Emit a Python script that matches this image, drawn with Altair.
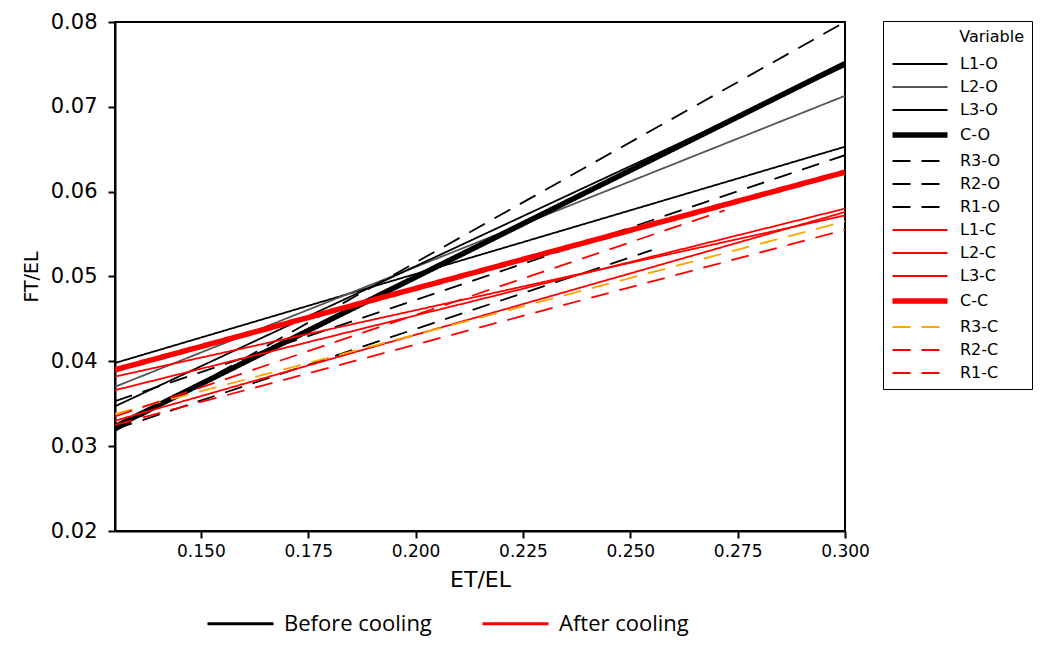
import altair as alt
import pandas as pd

# ---- data (start and end of each fitted line) ----
series = ["L1-O", "L2-O", "L3-O", "C-O", "R3-O", "R2-O", "R1-O",
          "L1-C", "L2-C", "L3-C", "C-C", "R3-C", "R2-C", "R1-C"]
cooling = ["Before cooling"] * 7 + ["After cooling"] * 7
x_start = [0.13] * 14
x_end = [0.30, 0.30, 0.30, 0.30, 0.30, 0.30, 0.255,
         0.30, 0.30, 0.30, 0.30, 0.30, 0.272, 0.30]
y_start = [0.0398, 0.0370, 0.0347, 0.0323, 0.0318, 0.0353, 0.0320,
           0.0382, 0.0366, 0.0330, 0.0390, 0.0338, 0.0335, 0.0325]
y_end = [0.0653, 0.0713, 0.0748, 0.0751, 0.0800, 0.0643, 0.0531,
         0.0572, 0.0580, 0.0576, 0.0623, 0.0565, 0.0578, 0.0555]

line_colors = ["#000000", "#555555", "#000000", "#000000", "#000000", "#000000", "#000000",
               "#ff0000", "#ff0000", "#ff0000", "#ff0000", "#ffa500", "#ff0000", "#ff0000"]
line_widths = [1.8, 1.8, 1.8, 5.5, 1.8, 1.8, 1.8, 1.8, 1.8, 1.8, 5.5, 1.8, 1.8, 1.8]
solid = [1, 0]
dash = [18, 11]
line_dashes = [solid, solid, solid, solid, dash, dash, dash,
               solid, solid, solid, solid, dash, dash, dash]

cool_labels = ["Before cooling", "After cooling"]
cool_colors = ["#000000", "#ff0000"]

x_ticks = [0.150, 0.175, 0.200, 0.225, 0.250, 0.275, 0.300]
y_ticks = [0.02, 0.03, 0.04, 0.05, 0.06, 0.07, 0.08]

rows = []
for s, g, xs, xe, ys, ye in zip(series, cooling, x_start, x_end, y_start, y_end):
    rows.append({"Variable": s, "Cooling": g, "ET": xs, "FT": ys})
    rows.append({"Variable": s, "Cooling": g, "ET": xe, "FT": ye})
df = pd.DataFrame(rows)

FONT = "DejaVu Sans"
BLANK = "\u2800"  # invisible filler that widens the legend box

main_legend = alt.Legend(
    title="Variable", orient="none", legendX=768, legendY=-1,
    symbolType="M-2.75,0L2.75,0", symbolSize=400,
    titleFont=FONT, titleFontSize=16, titleFontWeight="normal", titleColor="#000",
    titleAnchor="end", titlePadding=8,
    labelFont=FONT, labelFontSize=16, labelColor="#000", labelOffset=27,
    labelExpr="datum.label + '" + BLANK * 2 + "'",
    symbolOffset=16, rowPadding=4, padding=8,
    strokeColor="#000", fillColor="#fff",
)

x_enc = alt.X("ET:Q", scale=alt.Scale(domain=[0.13, 0.30], nice=False, zero=False),
              axis=alt.Axis(title="ET/EL", values=x_ticks, format=".3f", grid=False,
                            labelFont=FONT, labelFontSize=17, labelColor="#000",
                            labelFlush=False, labelOverlap=False, labelPadding=5,
                            titleFont=FONT, titleFontSize=22, titleFontWeight="normal",
                            titleColor="#000", titlePadding=10,
                            tickSize=7, tickWidth=2, tickColor="#000",
                            domainColor="#000", domainWidth=2))
y_enc = alt.Y("FT:Q", scale=alt.Scale(domain=[0.02, 0.08], nice=False, zero=False),
              axis=alt.Axis(title="FT/EL", values=y_ticks, format=".2f", grid=False,
                            labelFont=FONT, labelFontSize=21, labelColor="#000",
                            labelOverlap=False, labelPadding=11,
                            titleFont=FONT, titleFontSize=19, titleFontWeight="normal",
                            titleColor="#000", titlePadding=9,
                            tickSize=7, tickWidth=2, tickColor="#000",
                            domainColor="#000", domainWidth=2))

lines = alt.Chart(df).mark_line(clip=True).encode(
    x=x_enc,
    y=y_enc,
    color=alt.Color("Variable:N", scale=alt.Scale(domain=series, range=line_colors),
                    sort=series, legend=main_legend),
    strokeDash=alt.StrokeDash("Variable:N",
                              scale=alt.Scale(type="ordinal", domain=series, range=line_dashes),
                              sort=series, legend=main_legend),
    strokeWidth=alt.StrokeWidth("Variable:N",
                                scale=alt.Scale(type="ordinal", domain=series, range=line_widths),
                                sort=series, legend=main_legend),
    detail="Variable:N",
)

cool_legend = alt.Legend(
    title=None, orient="none", legendX=88, legendY=588, direction="horizontal",
    symbolType="M-2.75,0L2.75,0", symbolSize=576, symbolStrokeWidth=3,
    labelFont="Open Sans", labelFontSize=22, labelColor="#000", labelOffset=30,
    symbolOffset=24, columnPadding=44, padding=0,
)

cool = alt.Chart(df).transform_filter("false").mark_line().encode(
    x=alt.X("ET:Q"),
    y=alt.Y("FT:Q"),
    color=alt.Color("Cooling:N", scale=alt.Scale(domain=cool_labels, range=cool_colors),
                    sort=cool_labels, legend=cool_legend),
)

chart = alt.layer(lines, cool).resolve_scale(
    color="independent", strokeDash="independent", strokeWidth="independent"
).properties(
    width=730, height=509,
    padding={"left": 107, "top": 14, "right": 190, "bottom": 105},
    autosize=alt.AutoSizeParams(type="none"),
).configure_view(stroke="#000", strokeWidth=2)

chart.save("out.html", embed_options={"renderer": "svg", "actions": False})
